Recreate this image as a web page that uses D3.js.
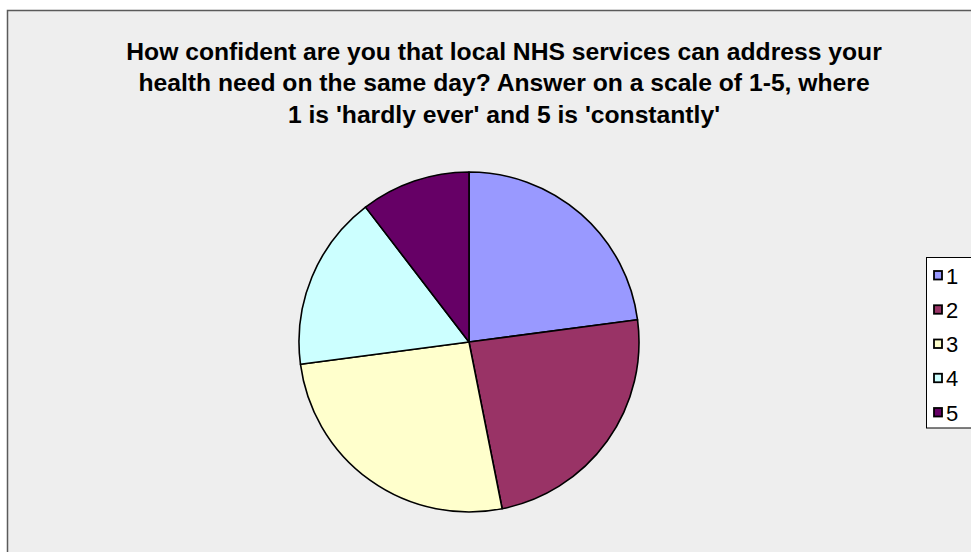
<!DOCTYPE html>
<html>
<head>
<meta charset="utf-8">
<script src="https://cdn.jsdelivr.net/npm/d3@7"></script>
<style>
  html, body { margin: 0; padding: 0; background: #ffffff; }
  svg { display: block; }
</style>
</head>
<body>
<svg id="chart" width="971" height="552"></svg>
<script>
// Survey answers on a 1-5 scale and the number of responses for each
const categories = ["1", "2", "3", "4", "5"];
const responses = [22, 23, 25, 16, 10];
const sliceColors = ["#9999ff", "#993366", "#ffffcc", "#ccffff", "#660066"];
const titleLines = [
  "How confident are you that local NHS services can address your",
  "health need on the same day? Answer on a scale of 1-5, where",
  "1 is 'hardly ever' and 5 is 'constantly'"
];

const svg = d3.select("#chart");
const font = "'Liberation Sans', Arial, sans-serif";

// Chart area frame
svg.append("rect")
  .attr("x", 7.5).attr("y", 10.5)
  .attr("width", 1000).attr("height", 600)
  .attr("fill", "#eeeeee")
  .attr("stroke", "#5a5a5a")
  .attr("stroke-width", 1.5);

// Title, three centred lines
const titleX = 504;
const title = svg.append("text")
  .attr("text-anchor", "middle")
  .attr("font-family", font)
  .attr("font-weight", "bold")
  .attr("font-size", 24)
  .attr("fill", "#000");
titleLines.forEach((line, i) => {
  title.append("tspan")
    .attr("x", titleX)
    .attr("y", 59.5 + i * 31.7)
    .text(line);
});
// keep the first line at its measured width
const firstLine = title.select("tspan").node();
const w = firstLine.getComputedTextLength();
if (w > 0) title.attr("font-size", 24 * 756 / w);

// Pie
const cx = 469, cy = 342, radius = 170;
const color = d3.scaleOrdinal().domain(categories).range(sliceColors);
const pie = d3.pie().sort(null).value(d => d.value);
const arc = d3.arc().innerRadius(0).outerRadius(radius);
const data = categories.map((c, i) => ({ key: c, value: responses[i] }));

svg.append("g")
  .attr("transform", `translate(${cx},${cy})`)
  .selectAll("path")
  .data(pie(data))
  .join("path")
  .attr("d", arc)
  .attr("fill", d => color(d.data.key))
  .attr("stroke", "#000")
  .attr("stroke-width", 1.6)
  .attr("stroke-linejoin", "round");

// Legend
const legendY = d3.scalePoint().domain(categories).range([275.5, 412.5]);
svg.append("rect")
  .attr("x", 926.5).attr("y", 257.5)
  .attr("width", 80).attr("height", 170.5)
  .attr("fill", "#ffffff")
  .attr("stroke", "#000")
  .attr("stroke-width", 1);

const items = svg.append("g").selectAll("g")
  .data(categories)
  .join("g")
  .attr("transform", d => `translate(0,${legendY(d)})`);

items.append("rect")
  .attr("x", 934).attr("y", -4.5)
  .attr("width", 8).attr("height", 8.5)
  .attr("fill", d => color(d))
  .attr("stroke", "#000")
  .attr("stroke-width", 1.8);

items.append("text")
  .attr("x", 946)
  .attr("y", 8)
  .attr("font-family", font)
  .attr("font-size", 22)
  .attr("fill", "#000")
  .text(d => d);
</script>
</body>
</html>
